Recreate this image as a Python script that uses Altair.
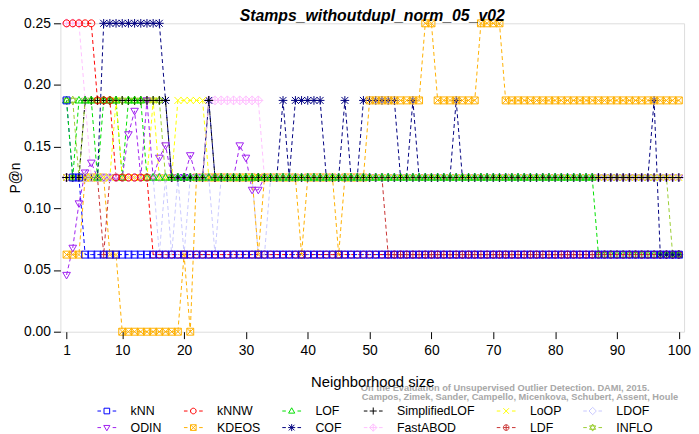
import re
import math
import altair as alt
import pandas as pd

FONT = "Liberation Sans"
TITLE = "Stamps_withoutdupl_norm_05_v02"
X_TITLE = "Neighborhood size"
Y_TITLE = "P@n"
WM1 = "On the Evaluation of Unsupervised Outlier Detection. DAMI, 2015."
WM2 = "Campos, Zimek, Sander, Campello, Micenkova, Schubert, Assent, Houle"

SERIES = ["kNN", "kNNW", "LOF", "SimplifiedLOF", "LoOP", "LDOF",
          "ODIN", "KDEOS", "COF", "FastABOD", "LDF", "INFLO"]
COLORS = ["#0000FF", "#FF0000", "#00E000", "#000000", "#FFFF00", "#C8C8FF",
          "#A020F0", "#FFB000", "#000080", "#FFC0FF", "#C83232", "#9ACD32"]
X_TICKS = [1, 10, 20, 30, 40, 50, 60, 70, 80, 90, 100]
Y_TICKS = [0.0, 0.05, 0.10, 0.15, 0.20, 0.25]

K = list(range(1, 101))
Z, L, M, H, T = 0.0, 0.0625, 0.125, 0.1875, 0.25

KNN = [
    H, M, M, L, L, L, L, L, L, L,
    L, L, L, L, L, L, L, L, L, L,
    L, L, L, L, L, L, L, L, L, L,
    L, L, L, L, L, L, L, L, L, L,
    L, L, L, L, L, L, L, L, L, L,
    L, L, L, L, L, L, L, L, L, L,
    L, L, L, L, L, L, L, L, L, L,
    L, L, L, L, L, L, L, L, L, L,
    L, L, L, L, L, L, L, L, L, L,
    L, L, L, L, L, L, L, L, L, L,
]
KNNW = [
    T, T, T, T, T, H, H, H, M, M,
    M, M, M, M, L, L, L, L, L, L,
    L, L, L, L, L, L, L, L, L, L,
    L, L, L, L, L, L, L, L, L, L,
    L, L, L, L, L, L, L, L, L, L,
    L, L, L, L, L, L, L, L, L, L,
    L, L, L, L, L, L, L, L, L, L,
    L, L, L, L, L, L, L, L, L, L,
    L, L, L, L, L, L, L, L, L, L,
    L, L, L, L, L, L, L, L, L, L,
]
LOF = [
    H, M, H, H, H, M, H, H, H, M,
    H, H, H, M, M, M, M, M, M, M,
    M, M, M, M, M, M, M, M, M, M,
    M, M, M, M, M, M, M, M, M, M,
    M, M, M, M, M, M, M, M, M, M,
    M, M, M, M, M, M, M, M, M, M,
    M, M, M, M, M, M, M, M, M, M,
    M, M, M, M, M, M, M, M, M, M,
    M, M, M, M, M, M, L, L, L, L,
    L, L, L, L, L, L, L, L, L, L,
]
SLOF = [
    M, M, M, H, H, H, H, H, H, H,
    H, H, H, H, H, H, H, M, M, M,
    M, M, M, H, M, M, M, M, M, M,
    M, M, M, M, M, M, M, M, M, M,
    M, M, M, M, M, M, M, M, M, M,
    M, M, M, M, M, M, M, M, M, M,
    M, M, M, M, M, M, M, M, M, M,
    M, M, M, M, M, M, M, M, M, M,
    M, M, M, M, M, M, M, M, M, M,
    M, M, M, M, M, M, M, M, M, M,
]
LOOP = [
    M, M, M, M, M, M, M, M, H, M,
    M, M, M, M, H, M, M, M, H, H,
    H, H, H, M, M, M, M, M, M, M,
    M, M, M, M, M, M, M, M, M, M,
    M, M, M, M, M, M, M, M, M, M,
    M, M, M, M, M, M, M, M, M, M,
    M, M, M, M, M, M, M, M, M, M,
    M, M, M, M, M, M, M, M, M, M,
    M, M, M, M, M, M, M, M, M, M,
    M, M, M, M, M, M, M, M, M, M,
]
LDOF = [
    M, M, M, M, M, M, M, M, M, M,
    M, M, M, M, M, L, M, L, M, L,
    M, M, M, M, L, M, M, M, M, M,
    M, L, L, M, M, M, M, M, M, M,
    M, M, M, M, M, M, M, M, M, M,
    M, M, M, M, M, M, M, M, M, M,
    M, M, M, M, M, M, M, M, M, M,
    M, M, M, M, M, M, M, M, M, M,
    M, M, M, M, M, M, M, M, M, M,
    M, M, M, M, M, M, M, M, M, M,
]
ODIN = [
    0.046, 0.068, 0.104, 0.129, 0.137, M, M, M, M, M,
    0.160, 0.179, M, H, M, 0.141, 0.151, M, M, M,
    0.143, M, M, M, M, M, M, M, 0.151, 0.141,
    0.115, 0.115, M, M, M, M, M, M, M, M,
    M, M, M, M, M, M, M, M, M, M,
    M, M, M, M, M, M, M, M, M, M,
    M, M, M, M, M, M, M, M, M, M,
    M, M, M, M, M, M, M, M, M, M,
    M, M, M, M, M, M, M, M, M, M,
    M, M, M, M, M, M, M, M, M, M,
]
KDEOS = [
    L, L, L, M, M, M, M, L, L, Z,
    Z, Z, Z, Z, Z, Z, Z, Z, Z, L,
    Z, M, M, M, M, M, M, M, M, M,
    M, L, M, M, M, M, M, M, L, M,
    M, M, M, M, L, M, M, M, M, H,
    H, H, H, H, H, H, H, H, T, T,
    H, H, H, H, H, H, H, T, T, T,
    T, H, H, H, H, H, H, H, H, H,
    H, H, H, H, H, H, H, H, H, H,
    H, H, H, H, H, H, H, H, H, H,
]
COF = [
    M, M, M, M, M, M, T, T, T, T,
    T, T, T, T, T, T, H, M, M, M,
    M, M, M, H, M, M, M, M, M, M,
    M, M, M, M, M, H, M, H, H, H,
    H, H, M, M, M, H, M, M, H, H,
    H, H, H, H, M, M, H, M, M, M,
    M, M, M, H, M, M, M, M, M, M,
    M, M, M, M, M, M, M, M, M, M,
    M, M, M, M, M, M, M, M, M, M,
    M, M, M, M, M, H, L, L, L, L,
]
FASTABOD = [
    T, T, T, H, M, M, M, M, M, M,
    M, M, M, M, M, M, M, M, M, M,
    M, M, M, H, H, H, H, H, H, H,
    H, H, M, M, M, M, M, M, M, M,
    M, M, M, M, M, M, M, M, M, M,
    M, M, M, M, M, M, M, M, M, M,
    M, M, M, M, M, M, M, M, M, M,
    M, M, M, M, M, M, M, M, M, M,
    M, M, M, M, M, M, M, M, M, M,
    M, M, M, M, M, M, M, M, M, M,
]
LDF = [
    M, M, M, M, M, M, L, M, M, M,
    M, M, M, M, M, M, M, M, M, M,
    M, M, M, M, M, M, M, M, M, M,
    M, M, M, M, M, M, M, M, M, M,
    M, M, M, M, M, M, M, M, M, M,
    M, M, L, L, L, L, L, L, L, L,
    L, L, L, L, L, L, L, L, L, L,
    L, L, L, L, L, L, L, L, L, L,
    L, L, L, L, L, L, L, L, L, L,
    L, L, L, L, L, L, L, L, L, L,
]
INFLO = [
    H, H, M, H, H, H, H, H, H, H,
    H, H, H, H, H, H, M, M, M, M,
    M, M, M, M, M, M, M, M, M, M,
    M, M, M, M, M, M, M, M, M, M,
    M, M, M, M, M, M, M, M, M, M,
    M, M, M, M, M, M, M, M, M, M,
    M, M, M, M, M, M, M, M, M, M,
    M, M, M, M, M, M, M, M, M, M,
    M, M, M, M, M, M, M, M, M, M,
    M, M, M, M, M, M, M, M, L, L,
]

VALUES = [KNN, KNNW, LOF, SLOF, LOOP, LDOF, ODIN, KDEOS, COF, FASTABOD, LDF, INFLO]
for vals in VALUES:
    assert len(vals) == 100

rows = []
for i, (name, vals) in enumerate(zip(SERIES, VALUES)):
    for k, v in zip(K, vals):
        rows.append({"series": name, "k": k, "p": v, "idx": i})
df = pd.DataFrame(rows)


# ---- marker shapes (R pch 0..11) as unit SVG paths ----
def polygon(n):
    pts = [(math.cos(2 * math.pi * j / n), math.sin(2 * math.pi * j / n)) for j in range(n)]
    return "M" + "L".join(f"{a:.3f},{b:.3f}" for a, b in pts) + "Z"


SQUARE = "M-1,-1L1,-1L1,1L-1,1Z"
CIRCLE = polygon(16)
CROSS = "M-1,-1L1,1M-1,1L1,-1"
PLUS = "M-1.25,0L1.25,0M0,-1.25L0,1.25"
DIAMOND = "M0,-1.3L1.3,0L0,1.3L-1.3,0Z"
MARKERS = [
    SQUARE,                                         # kNN
    CIRCLE,                                         # kNNW
    "M0,-1.15L1.1,0.75L-1.1,0.75Z",                 # LOF
    PLUS,                                           # SimplifiedLOF
    CROSS,                                          # LoOP
    DIAMOND,                                        # LDOF
    "M0,1.15L1.1,-0.75L-1.1,-0.75Z",                # ODIN
    SQUARE + CROSS,                                 # KDEOS
    PLUS + CROSS,                                   # COF
    DIAMOND + "M-1.3,0L1.3,0M0,-1.3L0,1.3",         # FastABOD
    CIRCLE + "M-1,0L1,0M0,-1L0,1",                  # LDF
    "M0,-1.25L1.08,0.62L-1.08,0.62ZM0,1.25L1.08,-0.62L-1.08,-0.62Z",  # INFLO
]


def scaled(path, f):
    return re.sub(r"-?\d+(?:\.\d+)?", lambda m: f"{float(m.group()) * f:.3f}", path)


LEGEND_SHAPES = [scaled(p, 0.3) + "M-1,0L-0.62,0M0.62,0L1,0" for p in MARKERS]

x_enc = alt.X(
    "k:Q",
    scale=alt.Scale(domain=[0, 100.85], nice=False, zero=False),
    axis=alt.Axis(
        values=X_TICKS, title=X_TITLE, titleFont=FONT, titleFontSize=15,
        titleFontWeight="normal", titleColor="black", titlePadding=17,
        labelFont=FONT, labelFontSize=14, labelColor="black", labelPadding=5,
        tickSize=7, tickColor="black", tickWidth=1, domain=False, grid=False,
        labelFlush=False, labelOverlap=False, zindex=1,
    ),
)
y_enc = alt.Y(
    "p:Q",
    scale=alt.Scale(domain=[0, 0.25], nice=False, zero=False),
    axis=alt.Axis(
        values=Y_TICKS, format=".2f", title=Y_TITLE, titleFont=FONT, titleFontSize=14,
        titleFontWeight="normal", titleColor="black", titlePadding=1,
        labelFont=FONT, labelFontSize=14, labelColor="black", labelPadding=3,
        tickSize=7, tickColor="black", tickWidth=1, domain=False, grid=False,
        labelFlush=False, labelOverlap=False,
    ),
)

color_scale = alt.Scale(domain=SERIES, range=COLORS)

lines = alt.Chart(df).mark_line(strokeDash=[4, 3], strokeWidth=1).encode(
    x=x_enc, y=y_enc,
    color=alt.Color("series:N", scale=color_scale, legend=None),
    order="k:Q",
)
# later series are drawn first so that the first series end up on top
points = alt.Chart(df).mark_point(filled=False, size=49, strokeWidth=1, opacity=1).encode(
    x=x_enc, y=y_enc,
    color=alt.Color("series:N", scale=color_scale, legend=None),
    shape=alt.Shape("series:N", scale=alt.Scale(domain=SERIES, range=MARKERS), legend=None),
    order=alt.Order("idx:Q", sort="descending"),
)

leg = alt.Legend(
    title=None, orient="none", legendX=37, legendY=382, columns=6,
    direction="horizontal", symbolSize=361, symbolStrokeWidth=1,
    labelFont=FONT, labelFontSize=12.5, labelColor="black", labelOffset=14,
    columnPadding=19.5, rowPadding=0, padding=0,
)
legend_layer = alt.Chart(df).transform_filter("false").mark_point(
    filled=False, strokeWidth=1, opacity=1
).encode(
    x=x_enc, y=y_enc,
    color=alt.Color("series:N", scale=alt.Scale(domain=SERIES, range=COLORS), legend=leg),
    shape=alt.Shape("series:N", scale=alt.Scale(domain=SERIES, range=LEGEND_SHAPES), legend=leg),
)

wm_style = dict(align="right", baseline="alphabetic", font=FONT, fontSize=9.4,
                fontWeight="bold", color="#A8A8A8")
wm1 = alt.Chart(pd.DataFrame({"t": [WM1]})).mark_text(**wm_style).encode(
    x=alt.value(596), y=alt.value(372), text="t:N")
wm2 = alt.Chart(pd.DataFrame({"t": [WM2]})).mark_text(**wm_style).encode(
    x=alt.value(625), y=alt.value(381), text="t:N")

chart = alt.layer(wm1, wm2, lines, points, legend_layer).resolve_scale(
    color="independent", shape="independent"
).properties(
    width=631, height=312,
    title=alt.TitleParams(TITLE, font=FONT, fontSize=16, fontStyle="italic",
                          fontWeight="bold", color="black", anchor="middle",
                          offset=0, dy=8),
    padding={"left": 53, "top": 13, "right": 7, "bottom": 101},
    autosize=alt.AutoSizeParams(type="none"),
).configure_view(stroke="black", strokeWidth=1).configure(background="white")

chart.save("out.html", embed_options={"renderer": "svg", "actions": False})
